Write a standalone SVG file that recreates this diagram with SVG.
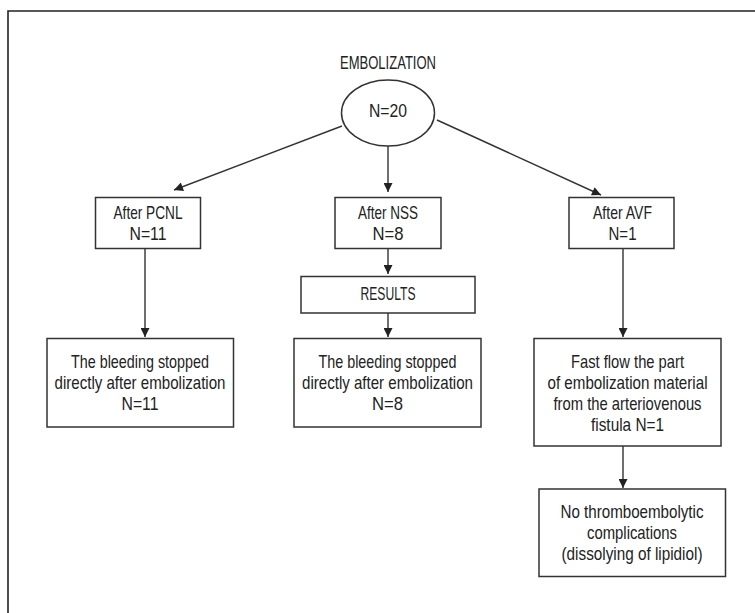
<svg xmlns="http://www.w3.org/2000/svg" width="755" height="613" viewBox="0 0 755 613">
<defs>
<marker id="ah" viewBox="0 0 10 10" refX="10" refY="5" markerWidth="11" markerHeight="9" markerUnits="userSpaceOnUse" orient="auto">
<path d="M0,0 L10,5 L0,10 z" fill="#222"/>
</marker>
<style>
.box{fill:#fff;stroke:#333;stroke-width:1.5}
.t{font-family:"Liberation Sans Narrow","Liberation Sans",Arial,sans-serif;font-size:19px;fill:#222;text-anchor:middle}
.c{stroke:#333;stroke-width:1.4;fill:none;marker-end:url(#ah)}
</style>
</defs>
<rect width="755" height="613" fill="#fff"/>
<path d="M755,11 H8 V613" fill="none" stroke="#222" stroke-width="1.6"/>

<g id="connectors">
<line class="c" x1="342" y1="126" x2="174" y2="190"/>
<line class="c" x1="388" y1="146" x2="388" y2="192"/>
<line class="c" x1="437" y1="120" x2="601" y2="195"/>
<line class="c" x1="388" y1="248.5" x2="388" y2="274"/>
<line class="c" x1="388" y1="313" x2="388" y2="337"/>
<line class="c" x1="145" y1="248.5" x2="145" y2="337"/>
<line class="c" x1="623" y1="248.5" x2="623" y2="337"/>
<line class="c" x1="623" y1="446" x2="623" y2="488"/>
</g>

<g id="embolization">
<text class="t" x="388" y="69" style="font-size:17.5px" textLength="96" lengthAdjust="spacingAndGlyphs">EMBOLIZATION</text>
<ellipse class="box" cx="388" cy="113" rx="46.5" ry="33"/>
<text class="t" x="388" y="116.5" style="font-size:18px" textLength="38" lengthAdjust="spacingAndGlyphs">N=20</text>
</g>

<g id="pcnl">
<rect class="box" x="95.5" y="197.5" width="105" height="51"/>
<text class="t" x="148" y="219" textLength="69" lengthAdjust="spacingAndGlyphs">After PCNL</text>
<text class="t" x="148" y="240" textLength="37" lengthAdjust="spacingAndGlyphs">N=11</text>
</g>

<g id="nss">
<rect class="box" x="335" y="197.5" width="106" height="51"/>
<text class="t" x="388" y="219" textLength="60" lengthAdjust="spacingAndGlyphs">After NSS</text>
<text class="t" x="388" y="240" textLength="31" lengthAdjust="spacingAndGlyphs">N=8</text>
</g>

<g id="avf">
<rect class="box" x="569" y="197.5" width="105" height="51"/>
<text class="t" x="622.5" y="219" textLength="59" lengthAdjust="spacingAndGlyphs">After AVF</text>
<text class="t" x="622.5" y="240" textLength="28" lengthAdjust="spacingAndGlyphs">N=1</text>
</g>

<g id="results">
<rect class="box" x="301" y="276.5" width="174" height="36.5"/>
<text class="t" x="388" y="300" textLength="55" lengthAdjust="spacingAndGlyphs">RESULTS</text>
</g>

<g id="pcnl-outcome">
<rect class="box" x="47" y="338.5" width="186.5" height="88.5"/>
<text class="t" x="140" y="368" textLength="138" lengthAdjust="spacingAndGlyphs">The bleeding stopped</text>
<text class="t" x="140" y="389" textLength="171" lengthAdjust="spacingAndGlyphs">directly after embolization</text>
<text class="t" x="140" y="410" textLength="37" lengthAdjust="spacingAndGlyphs">N=11</text>
</g>

<g id="nss-outcome">
<rect class="box" x="294" y="338.5" width="187" height="88.5"/>
<text class="t" x="387.5" y="368" textLength="138" lengthAdjust="spacingAndGlyphs">The bleeding stopped</text>
<text class="t" x="387.5" y="389" textLength="171" lengthAdjust="spacingAndGlyphs">directly after embolization</text>
<text class="t" x="387.5" y="410" textLength="31" lengthAdjust="spacingAndGlyphs">N=8</text>
</g>

<g id="avf-outcome">
<rect class="box" x="534" y="338.5" width="187" height="107.5"/>
<text class="t" x="627.5" y="368" textLength="113" lengthAdjust="spacingAndGlyphs">Fast flow the part</text>
<text class="t" x="627.5" y="389" textLength="160" lengthAdjust="spacingAndGlyphs">of embolization material</text>
<text class="t" x="627.5" y="410" textLength="148" lengthAdjust="spacingAndGlyphs">from the arteriovenous</text>
<text class="t" x="627.5" y="431" textLength="73" lengthAdjust="spacingAndGlyphs">fistula N=1</text>
</g>

<g id="no-complications">
<rect class="box" x="539" y="489" width="186.5" height="87.5"/>
<text class="t" x="632" y="518" textLength="143" lengthAdjust="spacingAndGlyphs">No thromboembolytic</text>
<text class="t" x="632" y="539" textLength="90" lengthAdjust="spacingAndGlyphs">complications</text>
<text class="t" x="632" y="560" textLength="141" lengthAdjust="spacingAndGlyphs">(dissolying of lipidiol)</text>
</g>
</svg>
